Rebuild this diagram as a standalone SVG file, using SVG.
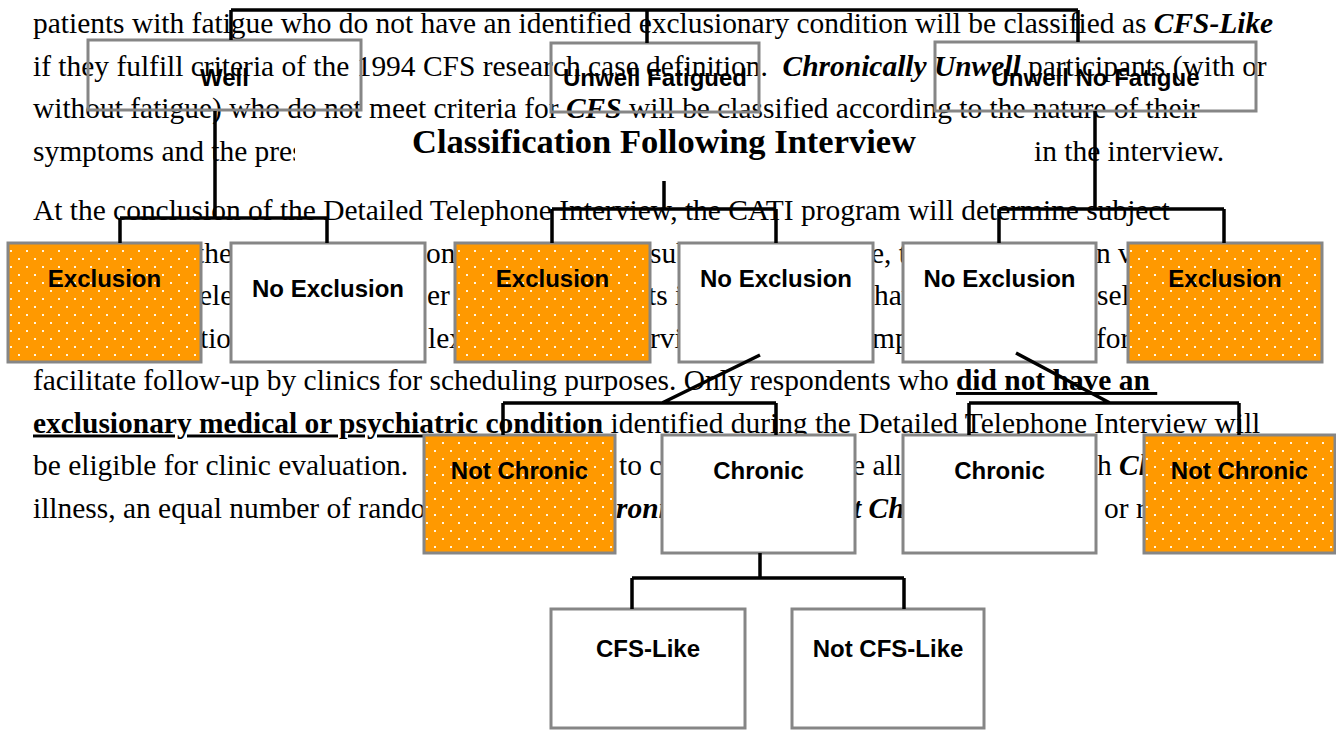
<svg xmlns="http://www.w3.org/2000/svg" width="1336" height="730" viewBox="0 0 1336 730">
<style>
.t{font-family:"Liberation Serif","Times New Roman",serif;font-size:29.45px;fill:#000}
.bi{font-weight:bold;font-style:italic}
.bu{font-weight:bold;text-decoration:underline}
.lbl{font-family:"Liberation Sans",Arial,sans-serif;font-weight:bold;font-size:24px;text-anchor:middle;fill:#000}
.box{stroke:#868686;stroke-width:3}
.w{fill:#fff}
.o{fill:url(#dots)}
.n{fill:none}
.c{stroke:#000;stroke-width:3.5;fill:none}
.ttl{font-family:"Liberation Serif","Times New Roman",serif;font-weight:bold;font-size:34.5px;text-anchor:middle;fill:#000}
</style>
<defs>
<pattern id="dots" width="16" height="16" patternUnits="userSpaceOnUse">
<rect width="16" height="16" fill="#FF9900"/>
<rect x="2" y="2" width="2" height="2" fill="#FFF4DE"/>
<rect x="10" y="10" width="2" height="2" fill="#FFF4DE"/>
</pattern>
</defs>
<rect width="1336" height="730" fill="#fff"/>
<g id="body-text" class="t">
<text x="33" y="33">patients with fatigue who do not have an identified exclusionary condition will be classified as <tspan class="bi">CFS-Like</tspan></text>
<text x="33" y="75.5">if they fulfill criteria of the 1994 CFS research case definition.&#160; <tspan class="bi">Chronically Unwell</tspan> participants (with or</text>
<text x="33" y="118">without fatigue) who do not meet criteria for <tspan class="bi">CFS</tspan> will be classified according to the nature of their</text>
<text x="33" y="160.5">symptoms and the pres</text>
<text x="1034" y="160.5">in the interview.</text>
<text x="33" y="220">At the conclusion of the Detailed Telephone Interview, the CATI program will determine subject</text>
<text x="196" y="262.5">the</text><text x="426" y="262.5">on</text><text x="650" y="262.5">sub</text><text x="871" y="262.5">e, t</text><text x="1096" y="262.5">n v</text>
<text x="199" y="305">ele</text><text x="427" y="305">er t</text><text x="648" y="305">ts i</text><text x="874" y="305">hav</text><text x="1097" y="305">sel</text>
<text x="200" y="347.5">tio</text><text x="428" y="347.5">lex</text><text x="650" y="347.5">rvi</text><text x="872" y="347.5">mp</text><text x="1096" y="347.5">for</text>
<text x="33" y="390">facilitate follow-up by clinics for scheduling purposes. Only respondents who <tspan class="bu">did not have an&#160;</tspan></text>
<text x="33" y="432.5"><tspan class="bu">exclusionary medical or psychiatric condition</tspan> identified during the Detailed Telephone Interview will</text>
<text x="33" y="475">be eligible for clinic evaluation.</text><text x="619" y="475">to c</text><text x="852" y="475">e all</text><text x="1097" y="475">h <tspan class="bi">Ch</tspan></text>
<text x="33" y="517.5">illness, an equal number of rando</text><text x="616" y="517.5" class="bi">roni</text><text x="853" y="517.5" class="bi">t Ch</text><text x="1104" y="517.5">or r</text>
</g>
<g id="node-well"><rect class="box n" x="88" y="40" width="273" height="70"/><text class="lbl" x="224.5" y="86">Well</text></g>
<g id="node-unwell-fatigued"><rect class="box n" x="551" y="43" width="208" height="69"/><text class="lbl" x="655" y="86">Unwell Fatigued</text></g>
<g id="node-unwell-no-fatigue"><rect class="box n" x="935" y="42" width="321" height="69"/><text class="lbl" x="1095.5" y="86">Unwell No Fatigue</text></g>
<g id="node-exclusion-1"><rect class="box o" x="8" y="243" width="193" height="119"/><text class="lbl" x="104.5" y="287">Exclusion</text></g>
<g id="node-no-exclusion-1"><rect class="box w" x="231" y="243" width="194" height="119"/><text class="lbl" x="328" y="297">No Exclusion</text></g>
<g id="node-exclusion-2"><rect class="box o" x="455" y="243" width="195" height="119"/><text class="lbl" x="552.5" y="287">Exclusion</text></g>
<g id="node-no-exclusion-2"><rect class="box w" x="679" y="243" width="194" height="119"/><text class="lbl" x="776" y="287">No Exclusion</text></g>
<g id="node-no-exclusion-3"><rect class="box w" x="903" y="243" width="193" height="119"/><text class="lbl" x="999.5" y="287">No Exclusion</text></g>
<g id="node-exclusion-3"><rect class="box o" x="1128" y="243" width="194" height="119"/><text class="lbl" x="1225" y="287">Exclusion</text></g>
<g id="node-not-chronic-1"><rect class="box o" x="424" y="435" width="191" height="118"/><text class="lbl" x="519.5" y="479">Not Chronic</text></g>
<g id="node-chronic-1"><rect class="box w" x="662" y="435" width="193" height="118"/><text class="lbl" x="758.5" y="479">Chronic</text></g>
<g id="node-chronic-2"><rect class="box w" x="903" y="435" width="193" height="118"/><text class="lbl" x="999.5" y="479">Chronic</text></g>
<g id="node-not-chronic-2"><rect class="box o" x="1144" y="435" width="191" height="118"/><text class="lbl" x="1239.5" y="479">Not Chronic</text></g>
<g id="node-cfs-like"><rect class="box w" x="551" y="609" width="194" height="119"/><text class="lbl" x="648" y="657">CFS-Like</text></g>
<g id="node-not-cfs-like"><rect class="box w" x="792" y="609" width="192" height="119"/><text class="lbl" x="888" y="657">Not CFS-Like</text></g>
<g id="connectors" class="c">
<path d="M231,10H1078M231,10V40M647,10V43M1078,10V42"/>
<path d="M215,111V218M120,218H327M120,218V243M327,218V243"/>
<path d="M664,128V209M552,209H776M552,209V243M776,209V243"/>
<path d="M1095,111V209M999,209H1224M999,209V243M1224,209V243"/>
<path d="M760,355L662,403M503,403H776M503,403V435M776,403V435"/>
<path d="M1016,353L1110,403M969,403H1239M969,403V435M1239,403V435"/>
<path d="M760,553V578M632,578H904M632,578V609M904,578V609"/>
</g>
<g id="node-title"><rect x="295" y="127" width="738" height="54" fill="#fff"/><text class="ttl" x="664" y="153">Classification Following Interview</text></g>
</svg>
